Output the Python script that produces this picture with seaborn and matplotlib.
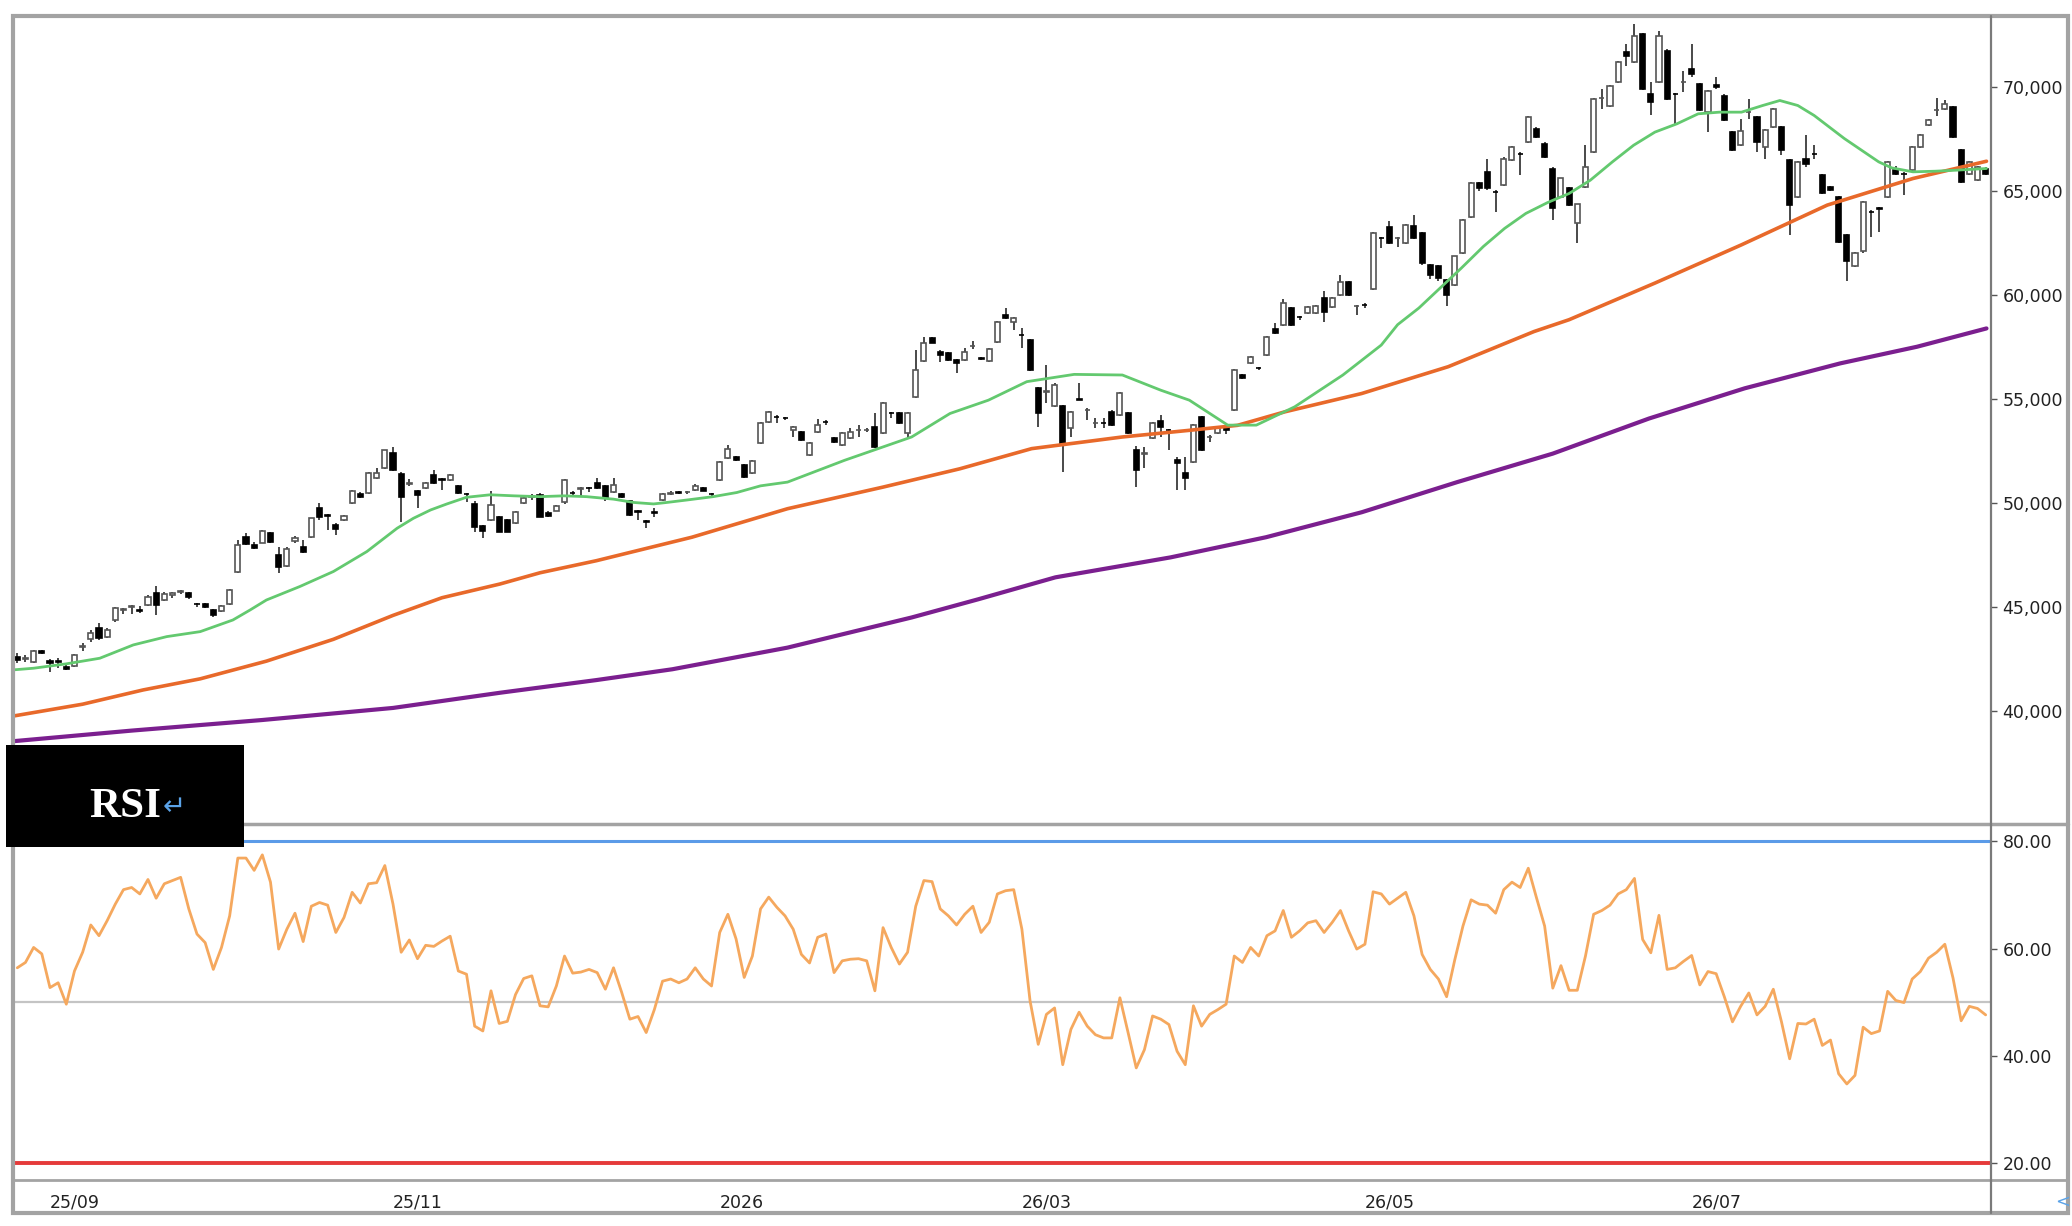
import matplotlib
matplotlib.use('Agg')
import matplotlib.pyplot as plt
import matplotlib.patches as mpatches
from matplotlib.lines import Line2D
import seaborn as sns
import pandas as pd

# ==========================
# Datos (velas diarias, indice de barra 0..241)
# ==========================
opens = [
    42620, 42520, 42380, 42870, 42430, 42400, 42140, 42170, 43080, 43450,
    43980, 43580, 44380, 44880, 45000, 44860, 45100, 45700, 45350, 45600,
    45740, 45660, 45160, 45140, 44860, 44830, 45150, 46700, 48360, 47990,
    48100, 48550, 47510, 46980, 48180, 47910, 48360, 49750, 49450, 48950,
    49190, 49990, 50430, 50470, 51200, 51680, 52400, 51400, 50900, 50560,
    50720, 51360, 51150, 51120, 50830, 50460, 49960, 48900, 49190, 49350,
    49190, 49030, 49990, 50300, 50400, 49540, 49640, 50030, 50480, 50700,
    50730, 50960, 50830, 50550, 50440, 50120, 49600, 49120, 49550, 50150,
    50460, 50510, 50520, 50640, 50720, 50430, 51120, 52160, 52210, 51840,
    51440, 52880, 53920, 54160, 54110, 53520, 53440, 52310, 53440, 53920,
    53120, 52790, 53120, 53500, 53510, 53680, 53360, 54350, 54320, 53360,
    55120, 56850, 57920, 57280, 57200, 56880, 56880, 57540, 56960, 56850,
    57760, 59050, 58720, 58090, 57840, 55520, 55360, 54680, 54650, 53600,
    54990, 54470, 53830, 53840, 54400, 54240, 54350, 52560, 52380, 53120,
    53970, 53520, 52080, 51430, 52000, 54160, 53190, 53360, 53680, 54480,
    56160, 56720, 56490, 57120, 58360, 58570, 59370, 58940, 59130, 59130,
    59850, 59450, 60010, 60650, 59480, 59530, 60280, 62740, 63300, 62730,
    62490, 63330, 62980, 61460, 61380, 60740, 60500, 62020, 63770, 65370,
    65930, 64970, 65290, 66490, 66810, 67370, 68000, 67290, 66090, 64730,
    65130, 63450, 65210, 66890, 69470, 69120, 70270, 71680, 71200, 72560,
    69680, 70240, 71760, 69680, 70240, 70880, 70160, 68800, 70110, 69600,
    67850, 67210, 68800, 68560, 67130, 68080, 68080, 66490, 64730, 66570,
    66810, 65770, 65210, 64730, 62890, 61380, 62100, 64010, 64170, 64730,
    66010, 65850, 66010, 67130, 68170, 68900, 68960, 69040, 66970, 65850,
    65530, 66090,
]
highs = [
    42780, 42700, 42940, 42920, 42480, 42560, 42300, 42740, 43260, 43900,
    44220, 43980, 45000, 44960, 45090, 45030, 45560, 45990, 45740, 45710,
    45820, 45720, 45200, 45180, 44900, 45100, 45880, 48230, 48550, 48120,
    48720, 48620, 47910, 47900, 48400, 48230, 49300, 49990, 49500, 49020,
    49440, 50650, 50520, 51480, 51680, 52560, 52720, 51500, 51150, 50640,
    51000, 51600, 51200, 51400, 50880, 50500, 50100, 48950, 50600, 49400,
    49250, 49640, 50280, 50420, 50500, 49600, 49930, 51160, 50560, 50780,
    50780, 51200, 50880, 51200, 50490, 50160, 49650, 49170, 49760, 50480,
    50560, 50570, 50580, 50900, 50760, 50470, 52040, 52800, 52260, 51900,
    52070, 53880, 54430, 54220, 54160, 53720, 53480, 52920, 54030, 54000,
    53170, 53400, 53600, 53760, 53600, 54320, 54840, 54400, 54400, 54360,
    57360, 58000, 57980, 57340, 57260, 56940, 57450, 57800, 57010, 57440,
    58770, 59370, 58960, 58400, 57900, 55600, 56640, 55760, 54720, 54420,
    55760, 54560, 54080, 54080, 54460, 55360, 54400, 52760, 52720, 53880,
    54240, 53580, 52240, 52240, 53800, 54210, 53260, 53640, 53730, 56450,
    56220, 57090, 56560, 58050, 58650, 59800, 59420, 59000, 59500, 59530,
    60200, 59900, 60970, 60700, 59540, 59640, 63020, 62800, 63560, 62800,
    63420, 63860, 63030, 61520, 61440, 60800, 61900, 63650, 65420, 65440,
    66570, 65050, 66620, 67170, 66870, 68600, 68080, 67350, 66150, 65650,
    65180, 64400, 67200, 69480, 69900, 70120, 71240, 72080, 73040, 72620,
    70240, 72720, 71820, 69740, 70800, 72080, 70220, 69880, 70480, 69660,
    67900, 68480, 69440, 68620, 67970, 69010, 68140, 66550, 66450, 67680,
    67200, 65830, 65260, 64790, 62950, 62060, 64540, 64100, 64260, 66450,
    66200, 65920, 67170, 67730, 68450, 69500, 69370, 69100, 67030, 66450,
    66210, 66150,
]
lows = [
    42300, 42380, 42330, 42760, 41900, 42060, 41960, 42130, 42900, 43340,
    43420, 43520, 44300, 44670, 44670, 44700, 45040, 44620, 45270, 45430,
    45620, 45400, 45020, 44940, 44540, 44780, 45100, 46630, 47980, 47780,
    48060, 48100, 46630, 46930, 48080, 47590, 48300, 49190, 48710, 48470,
    49140, 49940, 50250, 50420, 51150, 51620, 51560, 49110, 50800, 49750,
    50670, 50920, 50640, 51060, 50420, 50070, 48630, 48310, 49140, 48600,
    48600, 48980, 49940, 50150, 49320, 49340, 49600, 49980, 50300, 50320,
    50550, 50680, 50080, 50500, 50240, 49400, 49190, 48790, 49350, 50110,
    50400, 50450, 50460, 50600, 50560, 50300, 51060, 52100, 52020, 51190,
    51400, 52820, 53870, 53840, 53980, 53200, 52990, 52260, 53390, 53760,
    52900, 52740, 53070, 53180, 53420, 52660, 53300, 54080, 53820, 53120,
    55060, 56800, 57680, 56800, 56840, 56240, 56830, 57400, 56900, 56800,
    57700, 58840, 58320, 57450, 56330, 53680, 54800, 54620, 51510, 53200,
    54940, 54000, 53600, 53600, 53700, 54190, 53340, 50790, 51670, 53070,
    53200, 52560, 50630, 50630, 51950, 52500, 52960, 53300, 53300, 54420,
    55950, 56680, 56380, 57080, 58150, 58520, 58520, 58800, 59080, 59080,
    58730, 59400, 59960, 59960, 59050, 59400, 60230, 62250, 62440, 62330,
    62440, 62690, 61450, 60800, 60700, 59460, 60450, 61970, 63720, 65000,
    65080, 64010, 65240, 66440, 65770, 67320, 67560, 66600, 63610, 64680,
    64280, 62500, 65160, 66840, 68960, 69070, 70220, 71040, 71150, 69880,
    68640, 70190, 69400, 68160, 69770, 70480, 68840, 67840, 69920, 68360,
    66920, 67160, 68480, 66890, 66570, 68030, 66730, 62890, 64680, 66170,
    66560, 64850, 64990, 62530, 60660, 61330, 62050, 62820, 63050, 64680,
    65800, 64810, 65960, 67080, 68120, 68600, 68910, 67560, 65400, 65800,
    65480, 65800,
]
closes = [
    42460, 42560, 42900, 42810, 42300, 42360, 42010, 42700, 43120, 43770,
    43500, 43900, 44940, 44920, 45040, 44800, 45470, 45100, 45610, 45680,
    45760, 45470, 45140, 45020, 44620, 45050, 45820, 47990, 48040, 47830,
    48680, 48150, 46950, 47780, 48340, 47670, 49270, 49350, 49400, 48740,
    49380, 50600, 50310, 51430, 51430, 52530, 51600, 50310, 50960, 50400,
    50960, 50960, 51130, 51360, 50480, 50420, 48870, 48680, 49910, 48630,
    48630, 49590, 50230, 50330, 49350, 49390, 49880, 51120, 50470, 50720,
    50710, 50720, 50240, 50880, 50280, 49430, 49590, 49110, 49540, 50440,
    50480, 50500, 50530, 50800, 50600, 50420, 51990, 52590, 52080, 51240,
    52030, 53840, 54400, 54150, 54100, 53680, 53040, 52870, 53760, 53900,
    52950, 53360, 53440, 53520, 53520, 52710, 54800, 54340, 53870, 54320,
    56400, 57680, 57720, 57120, 56880, 56720, 57280, 57560, 56950, 57400,
    58720, 58880, 58920, 58080, 56400, 54320, 55380, 55700, 52800, 54400,
    54980, 54490, 53850, 53830, 53760, 55310, 53390, 51590, 52400, 53840,
    53680, 53500, 51950, 51190, 53760, 52560, 53200, 53600, 53520, 56400,
    56000, 57040, 56480, 58000, 58200, 59610, 58570, 58930, 59450, 59480,
    59210, 59850, 60650, 60010, 59480, 59520, 62980, 62730, 62490, 62740,
    63380, 62740, 61560, 60980, 60820, 60020, 61860, 63610, 65370, 65130,
    65130, 64960, 66570, 67130, 66800, 68560, 67610, 66650, 64170, 65610,
    64330, 64360, 66170, 69440, 69480, 70080, 71200, 71520, 72480, 69920,
    69280, 72480, 69440, 69670, 70250, 70640, 68880, 69840, 70000, 68400,
    66970, 67880, 68810, 67370, 67930, 68960, 66970, 64330, 66410, 66330,
    66800, 64890, 65050, 62580, 61620, 62020, 64490, 64000, 64160, 66410,
    65850, 65840, 67130, 67690, 68400, 68920, 69200, 67610, 65450, 66410,
    66170, 65850,
]

rsi = [
    56.4, 57.4, 60.2, 59.0, 52.7, 53.6, 49.6, 55.8, 59.3, 64.4,
    62.4, 65.2, 68.3, 71.0, 71.4, 70.2, 72.9, 69.4, 72.1, 72.7,
    73.3, 67.4, 62.7, 61.1, 56.1, 60.2, 66.1, 76.9, 76.9, 74.6,
    77.5, 72.4, 59.9, 63.6, 66.6, 61.3, 67.9, 68.6, 68.1, 63.0,
    65.8, 70.5, 68.5, 72.1, 72.3, 75.5, 68.3, 59.3, 61.6, 58.1,
    60.6, 60.4, 61.4, 62.3, 55.8, 55.2, 45.5, 44.6, 52.1, 46.0,
    46.4, 51.4, 54.4, 54.9, 49.3, 49.1, 53.0, 58.6, 55.4, 55.6,
    56.1, 55.5, 52.4, 56.4, 51.8, 46.8, 47.3, 44.3, 48.6, 53.9,
    54.3, 53.6, 54.3, 56.4, 54.3, 53.0, 63.0, 66.4, 61.8, 54.6,
    58.6, 67.4, 69.6, 67.7, 66.1, 63.6, 58.9, 57.3, 62.1, 62.7,
    55.5, 57.7, 58.0, 58.1, 57.7, 52.1, 63.9, 60.2, 57.1, 59.3,
    67.9, 72.7, 72.5, 67.4, 66.1, 64.4, 66.4, 67.9, 63.0, 64.9,
    70.2, 70.8, 71.0, 63.6, 50.2, 42.1, 47.7, 48.9, 38.3, 44.9,
    48.1, 45.5, 43.9, 43.3, 43.3, 50.8, 44.3, 37.7, 41.1, 47.4,
    46.8, 45.8, 40.8, 38.3, 49.3, 45.5, 47.7, 48.6, 49.6, 58.6,
    57.4, 60.2, 58.6, 62.4, 63.3, 67.1, 62.1, 63.3, 64.8, 65.2,
    63.0, 64.9, 67.1, 63.3, 59.9, 60.8, 70.6, 70.2, 68.3, 69.4,
    70.5, 66.1, 58.9, 56.1, 54.3, 51.0, 57.9, 64.2, 69.1, 68.3,
    68.1, 66.6, 71.0, 72.4, 71.4, 75.0, 69.5, 64.2, 52.6, 56.8,
    52.2, 52.2, 58.6, 66.4, 67.1, 68.1, 70.2, 71.0, 73.1, 61.7,
    59.2, 66.2, 56.1, 56.4, 57.6, 58.7, 53.2, 55.7, 55.3, 51.0,
    46.3, 49.2, 51.7, 47.6, 49.2, 52.4, 46.3, 39.4, 46.0, 45.9,
    46.8, 41.9, 42.9, 36.6, 34.7, 36.3, 45.3, 44.1, 44.6, 52.0,
    50.3, 49.9, 54.3, 55.7, 58.2, 59.3, 60.8, 54.5, 46.5, 49.2,
    48.8, 47.6,
]

# medias moviles (indice de barra, valor)
ma_short_x = [-0.5, 2, 6, 10.1, 14.2, 18.3, 22.4, 26.4, 28.5, 30.5, 34.6, 38.7,
              42.8, 46.5, 48.5, 50.6, 52.6, 55.0, 57.9, 60.8, 64.0, 66.9, 69.7,
              73.0, 75.5, 77.9, 79.5, 82.0, 85.2, 88.1, 91.0, 94.3, 101.3,
              109.5, 114.2, 118.9, 123.6, 129.4, 135.3, 140.0, 143.5, 148.2,
              151.7, 156.4, 162.3, 167.0, 169.0, 171.6, 174.2, 176.8, 179.5,
              182.1, 184.7, 187.4, 190.0, 192.6, 195.3, 197.9, 200.5, 203.2,
              205.8, 208.4, 211.1, 213.7, 215.8, 218.0, 220.0, 221.6, 223.7,
              225.8, 227.9, 229.5, 232.1, 234.8, 237.4, 241.1]
ma_short_y = [41980, 42060, 42270, 42540, 43180, 43580, 43820, 44380, 44860,
              45340, 45990, 46710, 47670, 48790, 49270, 49670, 49960, 50280,
              50400, 50350, 50310, 50350, 50310, 50190, 50030, 49960, 50030,
              50150, 50310, 50510, 50830, 51010, 52060, 53180, 54310, 54950,
              55840, 56190, 56160, 55430, 54950, 53750, 53750, 54630, 56160,
              57600, 58580, 59380, 60340, 61300, 62340, 63210, 63930, 64460,
              64890, 65530, 66410, 67210, 67840, 68240, 68720, 68800, 68800,
              69120, 69360, 69120, 68640, 68160, 67530, 66970, 66410, 66120,
              65930, 65960, 66010, 66090]

ma_mid_x = [-0.5, 8, 15.4, 22.4, 30.5, 38.7, 46, 52, 59.1, 64, 70.9, 82.6,
            94.3, 106, 115.4, 124.2, 135.3, 143.5, 149.4, 155.2, 164.6,
            175.2, 185.7, 190, 200.5, 211.1, 221.6, 232.1, 241.1]
ma_mid_y = [39760, 40330, 41015, 41550, 42400, 43450, 44600, 45450, 46110,
            46650, 47230, 48360, 49730, 50770, 51650, 52620, 53180, 53500,
            53740, 54390, 55270, 56560, 58250, 58820, 60580, 62420, 64330,
            65610, 66440]

ma_long_x = [-0.5, 14, 30, 46, 59.1, 70.9, 80.2, 94.3, 109.5, 117.7, 127.1,
             141.2, 152.9, 164.6, 176.3, 188, 199.8, 211.5, 223.2, 232.6, 241.1]
ma_long_y = [38550, 39060, 39570, 40150, 40880, 41490, 42010, 43050, 44500,
             45380, 46430, 47390, 48360, 49560, 51010, 52380, 54070, 55520,
             56720, 57520, 58400]

tick_idx = [4, 46, 86, 123, 165, 205]
tick_lbl = ['25/09', '25/11', '2026', '26/03', '26/05', '26/07']
price_ticks = [40000, 45000, 50000, 55000, 60000, 65000, 70000]
rsi_ticks = [20, 40, 60, 80]

# ==========================
# Figura
# ==========================
sns.set_style('white')
plt.rcParams['font.family'] = ['DejaVu Sans']

W, H = 1568.0, 928.0
fig = plt.figure(figsize=(20.72, 12.26), dpi=100)
ax1 = fig.add_axes([10 / W, 1 - 623 / H, 1497 / W, 611 / H])
ax2 = fig.add_axes([10 / W, 1 - 893 / H, 1497 / W, 267 / H])

df = pd.DataFrame({'o': opens, 'h': highs, 'l': lows, 'c': closes})
df['i'] = range(len(df))
up = df[df['c'] >= df['o']]
dn = df[df['c'] < df['o']]

# velas
ax1.vlines(df['i'], df['l'], df['h'], color='#3a3a3a', lw=1.3, zorder=2)
ax1.bar(up['i'], up['c'] - up['o'], bottom=up['o'], width=0.62,
        color='white', edgecolor='#555555', linewidth=1.2, zorder=3)
ax1.bar(dn['i'], dn['o'] - dn['c'], bottom=dn['c'], width=0.62,
        color='black', edgecolor='black', linewidth=1.2, zorder=3)

# medias moviles
sns.lineplot(x=ma_long_x, y=ma_long_y, ax=ax1, color='#7b1f8f', lw=3.0, zorder=4)
sns.lineplot(x=ma_mid_x, y=ma_mid_y, ax=ax1, color='#e8692a', lw=2.6, zorder=4)
sns.lineplot(x=ma_short_x, y=ma_short_y, ax=ax1, color='#63c96f', lw=2.0, zorder=4)

ax1.set_xlim(-0.5, 241.7)
ax1.set_ylim(34614, 73431)
ax1.set_xticks([])
ax1.yaxis.tick_right()
ax1.set_yticks(price_ticks)
ax1.set_yticklabels([f'{v:,}' for v in price_ticks])

# RSI
ax2.axhline(80, color='#5b9be8', lw=2.2, zorder=1)
ax2.axhline(50, color='#c4c4c4', lw=1.6, zorder=1)
ax2.axhline(20, color='#e53a3a', lw=2.8, zorder=1)
sns.lineplot(x=df['i'], y=rsi, ax=ax2, color='#f5a85e', lw=2.0, zorder=3)
ax2.set_xlim(-0.5, 241.7)
ax2.set_ylim(16.8, 82.7)
ax2.yaxis.tick_right()
ax2.set_yticks(rsi_ticks)
ax2.set_yticklabels([f'{v:.2f}' for v in rsi_ticks])
ax2.set_xticks(tick_idx)
ax2.set_xticklabels(tick_lbl, ha='left')

for ax in (ax1, ax2):
    ax.set_xlabel('')
    ax.set_ylabel('')
    for s in ax.spines.values():
        s.set_visible(False)
    ax.tick_params(axis='y', direction='out', length=4, width=1,
                   color='#555555', labelsize=12.5, labelcolor='#222222', pad=4)
    ax.tick_params(axis='x', direction='out', length=7, width=1,
                   color='#555555', labelsize=12.5, labelcolor='#222222', pad=3)
    ax.grid(False)

# bordes y separadores
gray = '#a3a3a3'
fig.add_artist(Line2D([10 / W, 1565 / W], [1 - 624 / H, 1 - 624 / H], color=gray, lw=2.5))
fig.add_artist(Line2D([10 / W, 1565 / W], [1 - 893 / H, 1 - 893 / H], color=gray, lw=2.0))
fig.add_artist(Line2D([1507 / W, 1507 / W], [1 - 918 / H, 1 - 12 / H], color='#7a7a7a', lw=1.6))
fig.add_artist(mpatches.Rectangle((10 / W, 1 - 918 / H), 1555 / W, 906 / H,
                                  fill=False, edgecolor=gray, lw=3.0))

# etiqueta RSI
fig.add_artist(mpatches.Rectangle((4.5 / W, 1 - 641 / H), 180.5 / W, 77 / H,
                                  facecolor='black', edgecolor='none', zorder=10))
fig.text(95 / W, 1 - 611 / H, 'RSI', color='white', fontsize=31, fontweight='bold',
         family='Liberation Serif', ha='center', va='center', zorder=11)
fig.text(123 / W, 1 - 611 / H, '\u21b5', color='#5ba3e8', fontsize=20,
         ha='left', va='center', zorder=11)
fig.text(1555 / W, 1 - 910 / H, '<', color='#5ba3e8', fontsize=13,
         ha='left', va='center')

plt.savefig('out.png', dpi=100)
